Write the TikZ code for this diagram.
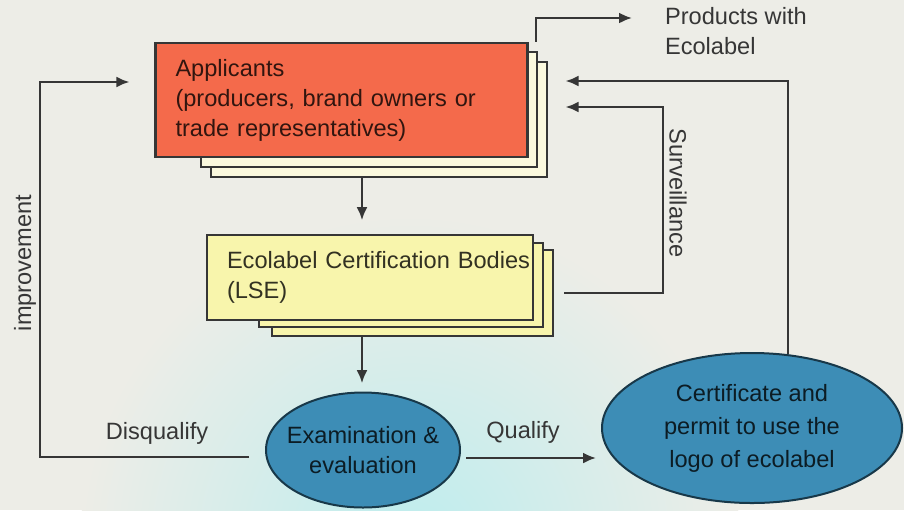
\documentclass[tikz,border=0pt]{standalone}
\usepackage{fontspec}
\setmainfont{Liberation Sans}
\usetikzlibrary{shapes.geometric,arrows.meta,calc}

\definecolor{bgc}{HTML}{EDEDE7}
\definecolor{glowc}{HTML}{BDEDEE}
\definecolor{appred}{HTML}{F46A4B}
\definecolor{sheetc}{HTML}{FBF9DE}
\definecolor{ecoyel}{HTML}{F8F5AC}
\definecolor{ovalc}{HTML}{3D8DB6}
\definecolor{linec}{HTML}{363636}

\tikzset{
  sheet/.style={draw=linec, line width=1pt, fill=sheetc},
  appbox/.style={draw=linec, line width=1.1pt, fill=appred, text=appred!20!black,
    text width=166pt, inner xsep=10pt, align=left, minimum height=57pt},
  ecobox/.style={draw=linec, line width=1.1pt, fill=ecoyel, text=ecoyel!20!black,
    text width=143pt, inner xsep=10pt, align=left, minimum height=42.5pt},
  oval/.style={ellipse, draw=ovalc!40!black, line width=1pt, fill=ovalc, inner sep=0pt},
  ovaltext/.style={text=ovalc!20!black, align=center},
  lbl/.style={text=linec, align=left},
  arr/.style={draw=linec, line width=1.1pt, -{Latex[length=6.5pt,width=5.5pt]}},
}

\begin{document}
\begin{tikzpicture}[x=0.5pt,y=-0.5pt,font=\fontsize{11.8}{15}\selectfont]
  \fill[bgc] (0,0) rectangle (904,510);
  \useasboundingbox (0,0) rectangle (904,510);
  \begin{scope}
    \clip (0,0) rectangle (904,510);
    \shade[inner color=glowc, outer color=bgc] (410,545) circle (165pt);
  \end{scope}

  % sheets behind the two boxes
  \draw[sheet] (211,62) rectangle (547,177);
  \draw[sheet] (201,52) rectangle (537,167);
  \draw[sheet, fill=ecoyel] (272,250) rectangle (553,336);
  \draw[sheet, fill=ecoyel] (259,243) rectangle (543,327);

  \node[appbox] (app) at (341.5,100) {Applicants\\(producers, brand owners or\\trade representatives)\\[-6pt]};
  \node[ecobox] (eco) at (370,277.5) {\mbox{Ecolabel Certification Bodies}\\(LSE)};
  \node[oval, minimum width=97pt, minimum height=57.5pt,
    label={[ovaltext]center:Examination \&\\evaluation}] (exam) at (363,450) {};
  \node[oval, minimum width=150pt, minimum height=75pt,
    label={[ovaltext, font=\fontsize{11.8}{16.5}\selectfont]center:Certificate and\\permit to use the\\logo of ecolabel}] (cert) at (752,428) {};

  \node[lbl, anchor=west] (prod) at (658,31) {Products with\\Ecolabel};
  \node[lbl, rotate=-90] (surv) at (678,193) {Surveillance};
  \node[lbl, rotate=90] (impr) at (25,263) {improvement};
  \node[lbl] (disq) at (157,433) {Disqualify};
  \node[lbl] (qual) at (523,432) {Qualify};

  \draw[arr] ($(app.south)+(20.5,20)$) -- ++(0,42);
  \draw[arr] ($(eco.south)+(-8,16)$) -- ++(0,46);
  \draw[arr] ($(exam.east)+(5,8)$) -- ($(cert.west)+(-5,30)$);
  \draw[arr] ($(exam.west)+(-16,7)$) -| ($(impr.south)+(-3,0)$) |- ($(app.west)+(-25,-18)$);
  \draw[arr] ($(cert.north)+(36,2)$) |- ($(app.east)+(37,-19)$);
  \draw[arr] ($(eco.east)+(30,15.5)$) -| ($(app.east)+(134,7)$) -- ($(app.east)+(37,7)$);
  \draw[arr] ($(app.north east)+(7,0)$) |- ($(prod.west)+(-26,-13)$);
\end{tikzpicture}
\end{document}
